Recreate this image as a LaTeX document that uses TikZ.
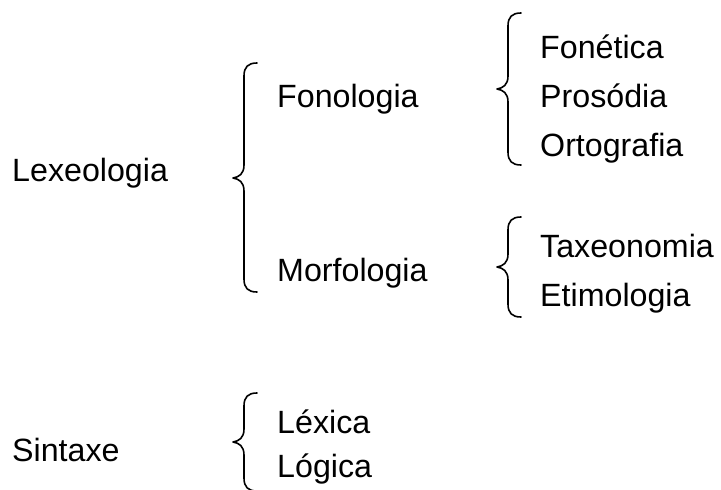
\documentclass[tikz,border=0pt]{standalone}
\usepackage{fontspec}
\setmainfont{Liberation Sans}
\newcommand{\mybrace}[4]{% x of vertical, top, mid, bottom
  \draw[bracestyle] (#1+13,#2) .. controls (#1+4,#2) and (#1,#2+4) .. (#1,#2+13)
    -- (#1,#3-13) .. controls (#1,#3-4) and (#1-5,#3-1) .. (#1-11,#3)
    .. controls (#1-5,#3+1) and (#1,#3+4) .. (#1,#3+13)
    -- (#1,#4-13) .. controls (#1,#4-4) and (#1+4,#4) .. (#1+13,#4);}
\begin{document}
\begin{tikzpicture}[x=1pt,y=-1pt,
  bracestyle/.style={line width=1.6pt,line cap=round,line join=round},
  lbl/.style={anchor=base west,inner sep=0pt,font=\fontsize{32.2}{36}\selectfont}]
\useasboundingbox (0,0) rectangle (721,490);
\node[lbl] (lex) at (12,181) {Lexeologia};
\node[lbl] (fon) at (277,107) {Fonologia};
\node[lbl] (mor) at (277,281) {Morfologia};
\node[lbl] (fne) at (540,58) {Fonética};
\node[lbl] (pro) at (540,107) {Prosódia};
\node[lbl] (ort) at (540,156) {Ortografia};
\node[lbl] (tax) at (540,257) {Taxeonomia};
\node[lbl] (eti) at (540,306) {Etimologia};
\node[lbl] (sin) at (12,461) {Sintaxe};
\node[lbl] (lexi) at (277,433) {Léxica};
\node[lbl] (log) at (277,477) {Lógica};
\mybrace{244}{63}{178}{292}
\mybrace{508}{13}{89}{165}
\mybrace{508}{217}{267}{317}
\mybrace{244}{393}{442}{491}
\end{tikzpicture}
\end{document}
